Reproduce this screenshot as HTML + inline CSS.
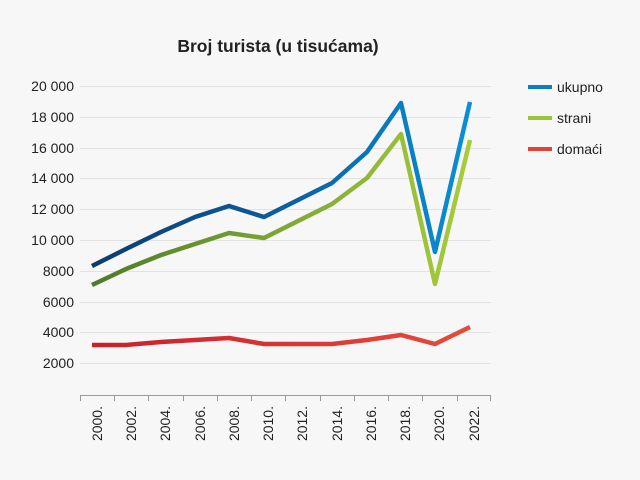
<!DOCTYPE html>
<html><head><meta charset="utf-8"><style>
body{margin:0;background:#f7f7f7;}
svg{display:block;font-family:"Liberation Sans",sans-serif;}
</style></head><body>
<svg width="640" height="480" viewBox="0 0 640 480">
<defs>
<linearGradient id="gb" gradientUnits="userSpaceOnUse" x1="92" y1="0" x2="470" y2="0"><stop offset="0" stop-color="#0d3d6e"/><stop offset="0.45" stop-color="#0b5a9a"/><stop offset="1" stop-color="#0a8fd4"/></linearGradient>
<linearGradient id="gg" gradientUnits="userSpaceOnUse" x1="92" y1="0" x2="470" y2="0"><stop offset="0" stop-color="#4e7a2a"/><stop offset="0.5" stop-color="#7ea634"/><stop offset="1" stop-color="#a8cc3a"/></linearGradient>
<linearGradient id="gr" gradientUnits="userSpaceOnUse" x1="92" y1="0" x2="470" y2="0"><stop offset="0" stop-color="#c8202c"/><stop offset="1" stop-color="#e84a3c"/></linearGradient>
</defs>
<rect width="640" height="480" fill="#f7f7f7"/>
<text x="278" y="52" text-anchor="middle" font-size="17.5" font-weight="bold" fill="#222">Broj turista (u tisućama)</text>
<g stroke="#e2e2e2" stroke-width="1">
<line x1="80" x2="491" y1="86.5" y2="86.5"/><line x1="80" x2="491" y1="117.5" y2="117.5"/><line x1="80" x2="491" y1="148.5" y2="148.5"/><line x1="80" x2="491" y1="178.5" y2="178.5"/><line x1="80" x2="491" y1="209.5" y2="209.5"/><line x1="80" x2="491" y1="240.5" y2="240.5"/><line x1="80" x2="491" y1="271.5" y2="271.5"/><line x1="80" x2="491" y1="302.5" y2="302.5"/><line x1="80" x2="491" y1="332.5" y2="332.5"/><line x1="80" x2="491" y1="363.5" y2="363.5"/>
</g>
<g font-size="14" fill="#222" text-anchor="end">
<text x="74" y="91">20 000</text><text x="74" y="122">18 000</text><text x="74" y="153">16 000</text><text x="74" y="183">14 000</text><text x="74" y="214">12 000</text><text x="74" y="245">10 000</text><text x="74" y="276">8000</text><text x="74" y="307">6000</text><text x="74" y="337">4000</text><text x="74" y="368">2000</text>
</g>
<g stroke="#999" stroke-width="1">
<line x1="80" x2="491" y1="395.5" y2="395.5"/>
<line x1="80.5" x2="80.5" y1="395" y2="401"/><line x1="114.5" x2="114.5" y1="395" y2="401"/><line x1="148.5" x2="148.5" y1="395" y2="401"/><line x1="183.5" x2="183.5" y1="395" y2="401"/><line x1="217.5" x2="217.5" y1="395" y2="401"/><line x1="251.5" x2="251.5" y1="395" y2="401"/><line x1="285.5" x2="285.5" y1="395" y2="401"/><line x1="320.5" x2="320.5" y1="395" y2="401"/><line x1="354.5" x2="354.5" y1="395" y2="401"/><line x1="388.5" x2="388.5" y1="395" y2="401"/><line x1="422.5" x2="422.5" y1="395" y2="401"/><line x1="457.5" x2="457.5" y1="395" y2="401"/><line x1="490.5" x2="490.5" y1="395" y2="401"/>
</g>
<g font-size="14" fill="#222" text-anchor="end">
<text transform="translate(102,406) rotate(-90)">2000.</text>
<text transform="translate(136,406) rotate(-90)">2002.</text>
<text transform="translate(170,406) rotate(-90)">2004.</text>
<text transform="translate(205,406) rotate(-90)">2006.</text>
<text transform="translate(239,406) rotate(-90)">2008.</text>
<text transform="translate(273,406) rotate(-90)">2010.</text>
<text transform="translate(307,406) rotate(-90)">2012.</text>
<text transform="translate(342,406) rotate(-90)">2014.</text>
<text transform="translate(376,406) rotate(-90)">2016.</text>
<text transform="translate(410,406) rotate(-90)">2018.</text>
<text transform="translate(444,406) rotate(-90)">2020.</text>
<text transform="translate(479,406) rotate(-90)">2022.</text>
</g>
<g fill="none" stroke-width="4.5" stroke-linejoin="round">
<polyline stroke="url(#gb)" points="92,266 126,249 161,232 195,217 229,206 264,217 298,200 332,183 367,152 401,103 435,252 470,102"/>
<polyline stroke="url(#gg)" points="92,285 126,269 161,255 195,244 229,233 264,238 298,221 332,204 367,178 401,134 435,284 470,140"/>
<polyline stroke="url(#gr)" points="92,345 126,345 161,342 195,340 229,338 264,344 298,344 332,344 367,340 401,335 435,344 470,327"/>
</g>
<g font-size="14" fill="#222">
<line x1="528" x2="552" y1="87" y2="87" stroke="#0a7fc4" stroke-width="4"/><text x="557" y="92">ukupno</text>
<line x1="528" x2="552" y1="118" y2="118" stroke="#9cc43a" stroke-width="4"/><text x="557" y="123">strani</text>
<line x1="528" x2="552" y1="149" y2="149" stroke="#e04438" stroke-width="4"/><text x="557" y="154">domaći</text>
</g>
</svg>
</body></html>
